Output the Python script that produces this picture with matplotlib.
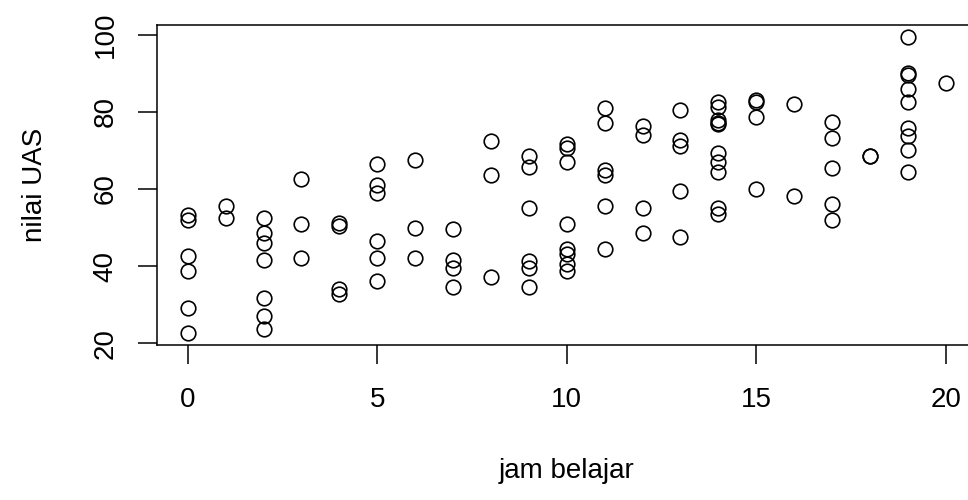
import matplotlib
matplotlib.use("Agg")
import matplotlib.pyplot as plt
import numpy as np

# values, grouped by study hours
jam_groups = [0, 1, 2, 3, 4, 5, 6, 7, 8, 9, 10, 11, 12, 13, 14, 15, 16, 17, 18, 19, 20]
nilai_groups = [
    [53.3, 51.8, 42.5, 38.6, 29.1, 22.6],
    [55.6, 52.4],
    [52.4, 48.6, 46.0, 41.6, 31.7, 27.1, 23.6],
    [62.5, 51.0, 42.0],
    [51.1, 50.3, 34.1, 32.8],
    [66.4, 61.1, 59.0, 46.4, 42.0, 36.0],
    [67.5, 49.9, 42.0],
    [49.5, 41.6, 39.5, 34.5],
    [72.5, 63.5, 37.1],
    [68.6, 65.6, 55.0, 41.2, 39.5, 34.5],
    [71.6, 70.5, 67.0, 51.0, 44.5, 43.2, 40.6, 38.6],
    [80.9, 77.0, 65.0, 63.5, 55.6, 44.5],
    [76.4, 74.0, 55.0, 48.6],
    [80.5, 72.7, 71.1, 59.5, 47.5],
    [82.4, 81.2, 77.9, 77.2, 76.8, 69.2, 67.0, 64.4, 55.1, 53.6],
    [83.1, 82.4, 78.5, 59.9],
    [82.0, 58.1],
    [77.4, 73.1, 65.5, 56.2, 52.0],
    [68.5, 68.4],
    [99.4, 90.0, 89.6, 85.9, 82.6, 75.7, 73.7, 70.1, 64.4],
    [87.4],
]
x_ticks = [0, 5, 10, 15, 20]
y_ticks = [20, 40, 60, 80, 100]

jam_belajar = np.concatenate([[j] * len(v) for j, v in zip(jam_groups, nilai_groups)])
nilai_uas = np.concatenate(nilai_groups)

plt.rcParams["font.family"] = ["Liberation Sans", "DejaVu Sans"]

fig = plt.figure(figsize=(9.68, 5.0), dpi=100)
ax = fig.add_axes([0.1627, 0.31, 0.8456, 0.64])

ax.plot(jam_belajar, nilai_uas, linestyle="none", marker="o", markersize=10.5,
        markerfacecolor="none", markeredgecolor="black", markeredgewidth=1.2)


def r_lim(v):
    # base R pads the data range by 4% on each side
    lo, hi = float(np.min(v)), float(np.max(v))
    pad = 0.04 * (hi - lo)
    return lo - pad, hi + pad


ax.set_xlim(*r_lim(jam_belajar))
ax.set_ylim(*r_lim(nilai_uas))
ax.set_xticks(x_ticks)
ax.set_yticks(y_ticks)
ax.set_yticklabels([str(t) for t in y_ticks], rotation=90, va="center")

for s in ax.spines.values():
    s.set_linewidth(1.1)
ax.tick_params(length=14, width=1.1, labelsize=20)
ax.tick_params(axis="x", pad=16)
ax.tick_params(axis="y", pad=14)

ax.set_xlabel("jam belajar", fontsize=20)
ax.set_ylabel("nilai UAS", fontsize=20)
ax.xaxis.set_label_coords(0.5, -0.395)
ax.xaxis.label.set_va("center")
ax.yaxis.set_label_coords(-0.15, 0.5)
ax.yaxis.label.set_va("center")

fig.savefig("out.png", dpi=100)
